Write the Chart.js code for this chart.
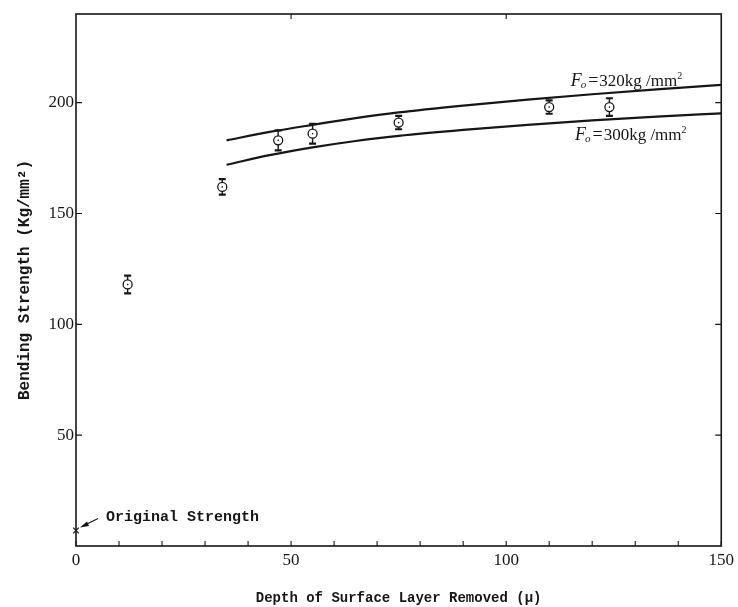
<!DOCTYPE html>
<html><head><meta charset="utf-8">
<script src="https://cdn.jsdelivr.net/npm/chart.js@4/dist/chart.umd.min.js"></script>
<style>html,body{margin:0;padding:0;background:#fff}#wrap{width:738px;height:607px}</style>
</head><body><div id="wrap"><canvas id="c" width="738" height="607"></canvas></div>
<script>
// ---- data ----
const depth = [12, 34, 47, 55, 75, 110, 124];
const strength = [118, 162, 183, 186, 191, 198, 198];
const strengthErr = [4, 3.5, 4.5, 4.5, 3, 3, 4];
const curveDepth = [35, 45, 55, 65, 75, 90, 105, 120, 135, 150];
const curve320 = [183, 186.8, 190, 193, 195.6, 198.7, 201.4, 203.8, 206, 208];
const curve300 = [172, 176.3, 179.8, 182.7, 185, 187.7, 190, 192, 193.7, 195.2];
const originalDepth = [0];
const originalStrength = [7];
const xTickLabels = [0, 50, 100, 150];
const yTickLabels = [50, 100, 150, 200];
const topTicks = [50, 100];
const curveLabels = ['320', '300'];
const labelDepth = [115, 116];

const INK = '#161616';

const deco = {
  id: 'deco',
  afterDatasetsDraw(chart) {
    const ctx = chart.ctx, xs = chart.scales.x, ys = chart.scales.y;
    ctx.save();
    ctx.strokeStyle = INK; ctx.fillStyle = INK;
    depth.forEach((d, i) => {
      const px = xs.getPixelForValue(d);
      const top = ys.getPixelForValue(strength[i] + strengthErr[i]);
      const bot = ys.getPixelForValue(strength[i] - strengthErr[i]);
      const py = ys.getPixelForValue(strength[i]);
      ctx.lineWidth = 1.4;
      ctx.beginPath(); ctx.moveTo(px, top); ctx.lineTo(px, py - 4.5); ctx.moveTo(px, py + 4.5); ctx.lineTo(px, bot); ctx.stroke();
      ctx.lineWidth = 2.2;
      ctx.beginPath(); ctx.moveTo(px - 3.5, top); ctx.lineTo(px + 3.5, top); ctx.moveTo(px - 3.5, bot); ctx.lineTo(px + 3.5, bot); ctx.stroke();
      ctx.beginPath(); ctx.arc(px, py, 0.8, 0, Math.PI * 2); ctx.fill();
    });
    ctx.restore();
  },
  afterDraw(chart) {
    const ctx = chart.ctx, xs = chart.scales.x, ys = chart.scales.y, a = chart.chartArea;
    ctx.save();
    ctx.strokeStyle = INK; ctx.fillStyle = INK;
    ctx.lineWidth = 1.6;
    ctx.strokeRect(a.left, a.top, a.right - a.left, a.bottom - a.top);
    ctx.lineWidth = 1.1;
    ctx.beginPath();
    xs.ticks.forEach(t => {
      const px = xs.getPixelForValue(t.value);
      ctx.moveTo(px, a.bottom); ctx.lineTo(px, a.bottom - 5);
    });
    topTicks.forEach(v => {
      const px = xs.getPixelForValue(v);
      ctx.moveTo(px, a.top); ctx.lineTo(px, a.top + 5);
    });
    yTickLabels.forEach(v => {
      const py = ys.getPixelForValue(v);
      ctx.moveTo(a.left, py); ctx.lineTo(a.left + 6, py);
      ctx.moveTo(a.right, py); ctx.lineTo(a.right - 6, py);
    });
    ctx.stroke();
    const curves = [curve320, curve300];
    curveLabels.forEach((lab, k) => {
      const d = labelDepth[k];
      let j = curveDepth.findIndex(c => c >= d);
      const t = (d - curveDepth[j - 1]) / (curveDepth[j] - curveDepth[j - 1]);
      const v = curves[k][j - 1] + t * (curves[k][j] - curves[k][j - 1]);
      let x = xs.getPixelForValue(d);
      const y = ys.getPixelForValue(v) + (k === 0 ? -10 : 18);
      ctx.textBaseline = 'alphabetic';
      ctx.font = 'italic 18px "Liberation Serif"';
      ctx.fillText('F', x, y); x += ctx.measureText('F').width;
      ctx.font = 'italic 11px "Liberation Serif"';
      ctx.fillText('o', x - 1, y + 2); x += ctx.measureText('o').width + 1;
      ctx.font = '18px "Liberation Serif"';
      ctx.fillText('=', x, y); x += ctx.measureText('=').width + 1;
      ctx.font = '17px "Liberation Serif"';
      const body = lab + 'kg /mm';
      ctx.fillText(body, x, y); x += ctx.measureText(body).width;
      ctx.font = '10px "Liberation Serif"';
      ctx.fillText('2', x, y - 7);
    });
    const ox = xs.getPixelForValue(originalDepth[0]);
    const oy = ys.getPixelForValue(originalStrength[0]);
    ctx.lineWidth = 1.1;
    ctx.beginPath(); ctx.moveTo(ox + 22, oy - 12); ctx.lineTo(ox + 6, oy - 4); ctx.stroke();
    ctx.beginPath(); ctx.moveTo(ox + 4, oy - 3); ctx.lineTo(ox + 11, oy - 9); ctx.lineTo(ox + 13, oy - 4.5); ctx.closePath(); ctx.fill();
    ctx.font = 'bold 15px "Liberation Mono"';
    ctx.textBaseline = 'alphabetic';
    ctx.fillText('Original Strength', ox + 30, oy - 9);
    ctx.restore();
  }
};

const xy = (xa, ya) => xa.map((x, i) => ({ x, y: ya[i] }));

new Chart(document.getElementById('c'), {
  type: 'scatter',
  data: {
    datasets: [
      { label: 'measured', data: xy(depth, strength), pointStyle: 'circle', pointRadius: 4.5,
        pointBackgroundColor: '#fff', pointBorderColor: INK, pointBorderWidth: 1.3, showLine: false },
      { label: 'F0=320', type: 'line', data: xy(curveDepth, curve320), borderColor: INK, borderWidth: 2.2,
        pointRadius: 0, cubicInterpolationMode: 'monotone', fill: false },
      { label: 'F0=300', type: 'line', data: xy(curveDepth, curve300), borderColor: INK, borderWidth: 2.2,
        pointRadius: 0, cubicInterpolationMode: 'monotone', fill: false },
      { label: 'original', data: xy(originalDepth, originalStrength), pointStyle: 'crossRot', pointRadius: 4,
        pointBorderColor: INK, pointBorderWidth: 1.2, clip: false }
    ]
  },
  options: {
    responsive: false, animation: false, devicePixelRatio: 1,
    layout: { padding: { left: 0, right: 14, top: 14, bottom: 0 } },
    plugins: { legend: { display: false }, tooltip: { enabled: false } },
    scales: {
      x: {
        type: 'linear', min: 0, max: 150,
        afterFit(s) { s.height = 61; },
        grid: { display: false, drawTicks: false },
        border: { display: false },
        ticks: { stepSize: 10, autoSkip: false, maxRotation: 0, padding: 4, color: INK,
          font: { family: 'Liberation Serif', size: 17 },
          callback: v => xTickLabels.includes(v) ? String(v) : '' },
        title: { display: true, text: 'Depth of Surface Layer Removed (μ)', color: INK,
          font: { family: 'Liberation Mono', size: 14, weight: 'bold' }, padding: { top: 0, bottom: 0 } }
      },
      y: {
        min: 0, max: 240,
        afterFit(s) { s.width = 76; },
        grid: { display: false, drawTicks: false },
        border: { display: false },
        ticks: { stepSize: 50, includeBounds: false, padding: 2, color: INK,
          font: { family: 'Liberation Serif', size: 17 },
          callback: v => yTickLabels.includes(v) ? String(v) : '' },
        title: { display: true, text: 'Bending Strength (Kg/mm²)', color: INK,
          font: { family: 'Liberation Mono', size: 16, weight: 'bold' }, padding: { top: 15, bottom: 0 } }
      }
    }
  },
  plugins: [deco]
});
</script>
</body></html>
